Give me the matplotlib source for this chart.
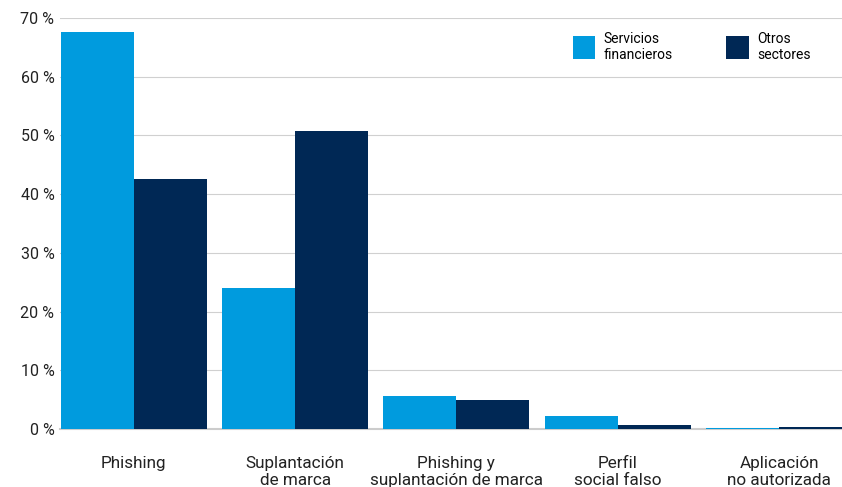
import numpy as np
import matplotlib
matplotlib.use("Agg")
import matplotlib.pyplot as plt
from matplotlib.patches import Patch

plt.rcParams['font.family'] = ['Roboto', 'DejaVu Sans']

# Categories and shares (%) per sector
categories = ["Phishing", "Suplantación\nde marca", "Phishing y\nsuplantación de marca",
              "Perfil\nsocial falso", "Aplicación\nno autorizada"]
financial = [67.6, 24.0, 5.6, 2.2, 0.1]
other = [42.6, 50.8, 4.9, 0.7, 0.3]
yticks = [0, 10, 20, 30, 40, 50, 60, 70]

light_blue = "#009BDE"
navy = "#002855"

fig = plt.figure(figsize=(8.42, 4.87), dpi=100)
ax = fig.add_axes([60 / 842, 1 - 429 / 487, 1 - 60 / 842, 411 / 487])

x = np.arange(len(categories))
w = 0.452
ax.bar(x - w / 2, financial, width=w, color=light_blue, zorder=3)
ax.bar(x + w / 2, other, width=w, color=navy, zorder=3)

ax.set_xlim(-w - 0.005, 4.39)
ax.set_ylim(0, 70)
ax.set_yticks(yticks)
ax.set_yticklabels([f"{v} %" for v in yticks], fontsize=11.5, color="#222222")
ax.set_xticks(x)
ax.set_xticklabels(categories, fontsize=12.3, color="#222222", linespacing=1.15)
ax.tick_params(axis='both', length=0)
ax.tick_params(axis='x', pad=19.5)
ax.tick_params(axis='y', pad=4)

ax.grid(axis='y', color="#d0d0d0", linewidth=0.8, zorder=0)
for side in ["top", "right", "left"]:
    ax.spines[side].set_visible(False)
ax.spines["bottom"].set_color("#cccccc")
ax.spines["bottom"].set_linewidth(1.5)

handles = [Patch(facecolor=light_blue, label="Servicios\nfinancieros"),
           Patch(facecolor=navy, label="Otros\nsectores")]
fig.legend(handles=handles, ncol=2, frameon=False, fontsize=10,
           loc="upper left", bbox_to_anchor=(560 / 842, 1 - 19 / 487),
           bbox_transform=fig.transFigure,
           handlelength=1.6, handleheight=2.2, handletextpad=0.6, columnspacing=3.9,
           labelspacing=0.2)

fig.savefig("out.png", dpi=100)
